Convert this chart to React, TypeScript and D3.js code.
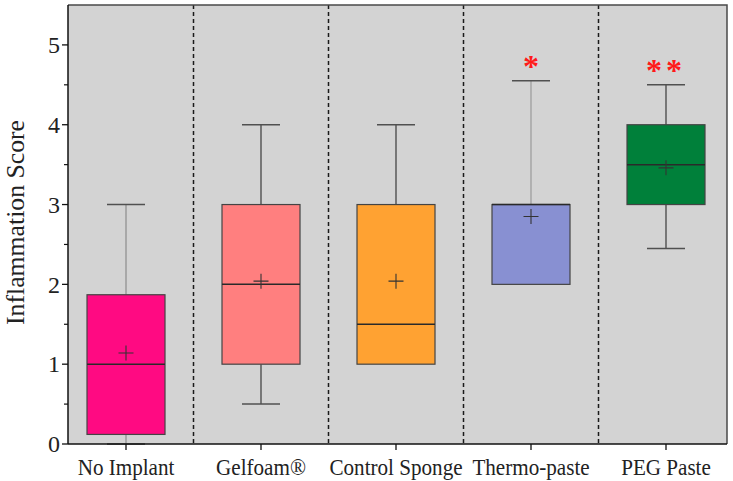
import React, { useEffect, useRef } from 'react';
import * as d3 from 'd3';

// box statistics
const categories = ['No Implant', 'Gelfoam®', 'Control Sponge', 'Thermo-paste', 'PEG Paste'];
const mins = [0, 0.5, 1, 2, 2.45];
const q1s = [0.12, 1, 1, 2, 3];
const medians = [1, 2, 1.5, 3, 3.5];
const q3s = [1.87, 3, 3, 3, 4];
const maxs = [3, 4, 4, 4.55, 4.5];
const means = [1.14, 2.04, 2.04, 2.85, 3.46];
const fills = ['#ff0a82', '#ff7f7f', '#ffa232', '#8890d2', '#00803a'];
const whiskerColors = ['#8c8c8c', '#3a3a3a', '#3a3a3a', '#9a9a9a', '#3a3a3a'];
const stars = ['', '', '', '*', '**'];
const yTicks = [0, 1, 2, 3, 4, 5];
const yMinorTicks = [0.5, 1.5, 2.5, 3.5, 4.5];

const W = 733;
const H = 481;

export default function App() {
  const ref = useRef<SVGSVGElement>(null);

  useEffect(() => {
    if (!ref.current) return;
    const svg = d3.select(ref.current);
    svg.selectAll('*').remove();

    const left = 68, right = 727, top = 5, bottom = 444;
    const font = '"Liberation Serif", "Times New Roman", serif';

    const x = d3.scalePoint<string>().domain(categories).range([126, 666]);
    const y = d3.scaleLinear().domain([0, 5.5]).range([bottom, top]);
    const step = x.step();
    const boxW = 78;
    const capW = 38;

    // plot background
    svg.append('rect')
      .attr('x', left).attr('y', top)
      .attr('width', right - left).attr('height', bottom - top)
      .attr('fill', '#d3d3d3');

    // dashed separators between groups
    categories.slice(1).forEach(c => {
      const sx = (x(c) as number) - step / 2;
      svg.append('line')
        .attr('x1', sx).attr('x2', sx)
        .attr('y1', top).attr('y2', bottom)
        .attr('stroke', '#1a1a1a')
        .attr('stroke-width', 1.5)
        .attr('stroke-dasharray', '4,3');
    });

    categories.forEach((c, i) => {
      const cx = x(c) as number;
      const g = svg.append('g');

      // whiskers
      g.append('line')
        .attr('x1', cx).attr('x2', cx)
        .attr('y1', y(q3s[i])).attr('y2', y(maxs[i]))
        .attr('stroke', whiskerColors[i]).attr('stroke-width', 1.2);
      g.append('line')
        .attr('x1', cx).attr('x2', cx)
        .attr('y1', y(q1s[i])).attr('y2', y(mins[i]))
        .attr('stroke', whiskerColors[i]).attr('stroke-width', 1.2);
      [maxs[i], mins[i]].forEach(v => {
        if (v === q1s[i] || v === q3s[i]) return;
        g.append('line')
          .attr('x1', cx - capW / 2).attr('x2', cx + capW / 2)
          .attr('y1', y(v)).attr('y2', y(v))
          .attr('stroke', '#505050').attr('stroke-width', 1.5);
      });

      // box
      g.append('rect')
        .attr('x', cx - boxW / 2)
        .attr('y', y(q3s[i]))
        .attr('width', boxW)
        .attr('height', y(q1s[i]) - y(q3s[i]))
        .attr('fill', fills[i])
        .attr('stroke', '#444')
        .attr('stroke-width', 1.2);

      // median
      g.append('line')
        .attr('x1', cx - boxW / 2).attr('x2', cx + boxW / 2)
        .attr('y1', y(medians[i])).attr('y2', y(medians[i]))
        .attr('stroke', '#2a2a2a').attr('stroke-width', 1.5);

      // mean marker
      const my = y(means[i]);
      g.append('path')
        .attr('d', `M${cx - 7.5},${my}H${cx + 7.5}M${cx},${my - 7.5}V${my + 7.5}`)
        .attr('stroke', '#333').attr('stroke-width', 1.1).attr('fill', 'none');

      // significance stars
      if (stars[i]) {
        g.append('text')
          .attr('x', cx).attr('y', y(maxs[i]) - 4)
          .attr('text-anchor', 'middle')
          .attr('fill', '#ff1a1a')
          .attr('font-family', font)
          .attr('font-weight', 'bold')
          .attr('font-size', 32)
          .attr('letter-spacing', stars[i].length > 1 ? 4 : 0)
          .text(stars[i]);
      }
    });

    // frame: top and right in gray
    svg.append('path')
      .attr('d', `M${left},${top}H${right}V${bottom}`)
      .attr('fill', 'none').attr('stroke', '#4a4a4a').attr('stroke-width', 1.5);

    // y axis
    const yAxis = svg.append('g').attr('transform', `translate(${left},0)`);
    yAxis.append('line').attr('x1', 0).attr('x2', 0).attr('y1', top).attr('y2', bottom)
      .attr('stroke', '#111').attr('stroke-width', 1.5);
    yTicks.forEach(t => {
      yAxis.append('line').attr('x1', -6).attr('x2', 0).attr('y1', y(t)).attr('y2', y(t))
        .attr('stroke', '#111').attr('stroke-width', 1.3);
      yAxis.append('text')
        .attr('x', -8).attr('y', y(t))
        .attr('dy', '0.34em')
        .attr('text-anchor', 'end')
        .attr('font-family', font).attr('font-size', 24)
        .attr('fill', '#222')
        .text(t);
    });
    yMinorTicks.forEach(t => {
      yAxis.append('line').attr('x1', -4).attr('x2', 0).attr('y1', y(t)).attr('y2', y(t))
        .attr('stroke', '#111').attr('stroke-width', 1.2);
    });

    // x axis
    const xAxis = svg.append('g').attr('transform', `translate(0,${bottom})`);
    xAxis.append('line').attr('x1', left).attr('x2', right).attr('y1', 0).attr('y2', 0)
      .attr('stroke', '#111').attr('stroke-width', 1.5);
    categories.forEach(c => {
      const cx = x(c) as number;
      xAxis.append('line').attr('x1', cx).attr('x2', cx).attr('y1', 0).attr('y2', 6)
        .attr('stroke', '#111').attr('stroke-width', 1.3);
      // the source figure is slightly stretched vertically
      xAxis.append('text')
        .attr('transform', `translate(${cx},31) scale(0.88,1)`)
        .attr('text-anchor', 'middle')
        .attr('font-family', font).attr('font-size', 24)
        .attr('fill', '#222')
        .text(c);
    });

    // y axis title
    svg.append('text')
      .attr('transform', `translate(24,${(top + bottom) / 2 - 2}) rotate(-90)`)
      .attr('text-anchor', 'middle')
      .attr('font-family', font).attr('font-size', 25)
      .attr('textLength', 205)
      .attr('lengthAdjust', 'spacingAndGlyphs')
      .attr('fill', '#222')
      .text('Inflammation Score');
  }, []);

  return (
    <div style={{ position: 'fixed', left: 0, top: 0, width: W, height: H, background: '#fff' }}>
      <svg ref={ref} width={W} height={H} viewBox={`0 0 ${W} ${H}`} style={{ display: 'block' }} />
    </div>
  );
}
